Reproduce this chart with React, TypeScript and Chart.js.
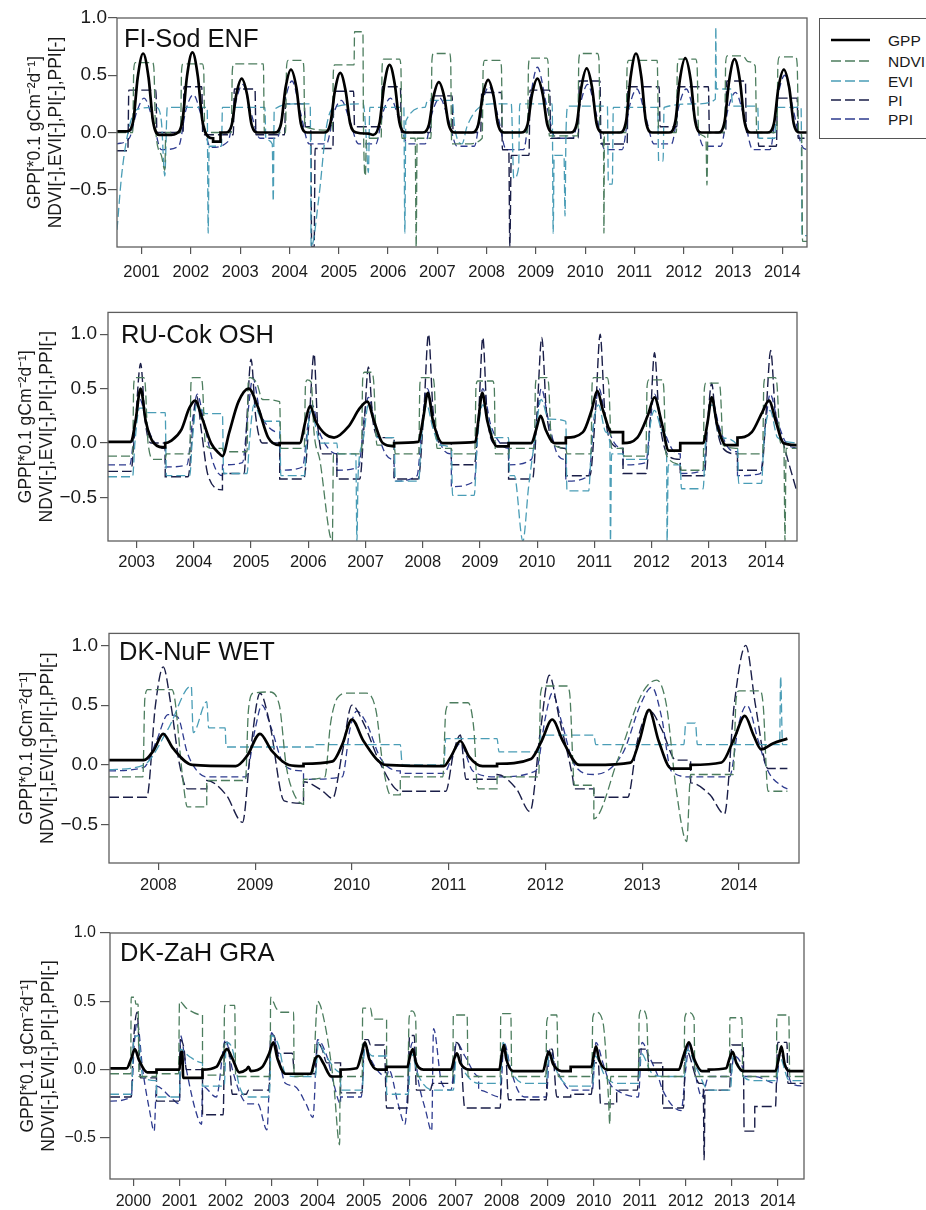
import React, { useEffect, useRef } from 'react';
import { Chart, registerables } from 'chart.js';

Chart.register(...registerables);

type Pt = [number, number];

// ---------------- tick labels ----------------
const FI_YEARS = [2001, 2002, 2003, 2004, 2005, 2006, 2007, 2008, 2009, 2010, 2011, 2012, 2013, 2014];
const RU_YEARS = [2003, 2004, 2005, 2006, 2007, 2008, 2009, 2010, 2011, 2012, 2013, 2014];
const NF_YEARS = [2008, 2009, 2010, 2011, 2012, 2013, 2014];
const ZH_YEARS = [2000, 2001, 2002, 2003, 2004, 2005, 2006, 2007, 2008, 2009, 2010, 2011, 2012, 2013, 2014];
const Y_TICKS = [-0.5, 0, 0.5, 1.0];

const SERIES_NAMES = ['GPP', 'NDVI', 'EVI', 'PI', 'PPI'];
const PANEL_NAMES = ['FI-Sod ENF', 'RU-Cok OSH', 'DK-NuF WET', 'DK-ZaH GRA'];
const Y_TITLE = ['GPP[*0.1 gCm\u207B\u00B2d\u207B\u00B9]', 'NDVI[-],EVI[-],PI[-],PPI[-]'];

// ---------------- FI-Sod ENF ----------------
const FI_GPP: Pt[] = [
  [2000.5, 0.01], [2000.7, 0.01], [2000.83, 0.1], [2000.92, 0.48], [2001.03, 0.69], [2001.14, 0.48], [2001.23, 0.1], [2001.36, -0.02], [2001.6, -0.02],
  [2001.7, -0.01], [2001.83, 0.11], [2001.92, 0.49], [2002.03, 0.7], [2002.14, 0.49], [2002.23, 0.11], [2002.36, -0.04], [2002.45, -0.05], [2002.45, -0.08], [2002.6, -0.08], [2002.6, 0.0],
  [2002.72, 0.0], [2002.83, 0.07], [2002.92, 0.33], [2003.03, 0.47], [2003.14, 0.33], [2003.23, 0.07], [2003.36, 0.0], [2003.6, 0.0],
  [2003.7, 0.0], [2003.83, 0.08], [2003.92, 0.39], [2004.03, 0.55], [2004.14, 0.39], [2004.23, 0.08], [2004.36, 0.0], [2004.6, 0.0],
  [2004.7, 0.0], [2004.83, 0.08], [2004.92, 0.36], [2005.03, 0.52], [2005.14, 0.36], [2005.23, 0.08], [2005.36, 0.0], [2005.6, -0.01],
  [2005.7, -0.02], [2005.83, 0.09], [2005.92, 0.41], [2006.03, 0.59], [2006.14, 0.41], [2006.23, 0.09], [2006.36, 0.0], [2006.6, 0.0],
  [2006.7, 0.0], [2006.83, 0.07], [2006.92, 0.31], [2007.03, 0.44], [2007.14, 0.31], [2007.23, 0.07], [2007.36, 0.0], [2007.6, 0.0],
  [2007.7, 0.0], [2007.83, 0.07], [2007.92, 0.32], [2008.03, 0.46], [2008.14, 0.32], [2008.23, 0.07], [2008.36, 0.0], [2008.6, 0.0],
  [2008.7, 0.0], [2008.83, 0.07], [2008.92, 0.33], [2009.03, 0.47], [2009.14, 0.33], [2009.23, 0.07], [2009.36, 0.0], [2009.6, 0.0],
  [2009.7, 0.0], [2009.83, 0.08], [2009.92, 0.39], [2010.03, 0.56], [2010.14, 0.39], [2010.23, 0.08], [2010.36, 0.0], [2010.6, 0.0],
  [2010.7, 0.0], [2010.83, 0.1], [2010.92, 0.48], [2011.03, 0.69], [2011.14, 0.48], [2011.23, 0.1], [2011.36, 0.0], [2011.6, 0.0],
  [2011.7, 0.0], [2011.83, 0.1], [2011.92, 0.46], [2012.03, 0.65], [2012.14, 0.46], [2012.23, 0.1], [2012.36, 0.0], [2012.6, 0.0],
  [2012.7, 0.0], [2012.83, 0.1], [2012.92, 0.45], [2013.03, 0.64], [2013.14, 0.45], [2013.23, 0.1], [2013.36, 0.0], [2013.6, 0.0],
  [2013.7, 0.0], [2013.83, 0.08], [2013.92, 0.39], [2014.03, 0.55], [2014.14, 0.39], [2014.23, 0.08], [2014.36, 0.0], [2014.5, 0.0],
];
const FI_NDVI: Pt[] = [
  [2000.5, 0.0], [2000.82, 0.0], [2000.84, 0.55], [2000.87, 0.61], [2001.22, 0.61], [2001.25, 0.55], [2001.28, 0.05], [2001.4, -0.2], [2001.47, -0.33], [2001.49, 0.0],
  [2001.79, 0.0], [2001.81, 0.54], [2001.84, 0.6], [2002.23, 0.6], [2002.26, 0.54], [2002.28, 0.0], [2002.82, 0.0], [2002.84, 0.54], [2002.87, 0.6], [2003.47, 0.6], [2003.49, 0.0],
  [2003.92, 0.0], [2003.94, 0.57], [2003.97, 0.63], [2004.26, 0.63], [2004.29, 0.57], [2004.31, 0.05], [2004.87, 0.02], [2004.89, 0.53], [2004.92, 0.59], [2005.31, 0.59],
  [2005.32, 0.88], [2005.49, 0.88], [2005.5, 0.1], [2005.54, -0.38], [2005.56, -0.05], [2005.86, -0.05], [2005.88, 0.58], [2005.91, 0.64], [2006.23, 0.64], [2006.26, 0.58],
  [2006.28, -0.05], [2006.55, -0.05], [2006.57, -1.0], [2006.59, -0.05], [2006.87, -0.05], [2006.89, 0.63], [2006.92, 0.69], [2007.25, 0.69], [2007.27, 0.63], [2007.29, -0.1],
  [2007.6, -0.1], [2007.91, -0.05], [2007.93, 0.57], [2007.96, 0.63], [2008.27, 0.63], [2008.3, 0.57], [2008.32, 0.0], [2008.83, 0.0], [2008.85, 0.59], [2008.88, 0.65],
  [2009.22, 0.65], [2009.25, 0.59], [2009.27, -0.03], [2009.85, -0.03], [2009.87, 0.63], [2009.9, 0.69], [2010.25, 0.69], [2010.28, 0.63], [2010.3, 0.0], [2010.37, 0.0],
  [2010.38, -0.88], [2010.39, 0.0], [2010.83, 0.0], [2010.85, 0.57], [2010.88, 0.63], [2011.46, 0.63], [2011.49, 0.0], [2011.85, 0.0], [2011.87, 0.58], [2011.9, 0.64],
  [2012.24, 0.64], [2012.27, 0.58], [2012.3, 0.0], [2012.45, -0.05], [2012.47, -0.46], [2012.49, 0.0], [2012.83, 0.0], [2012.85, 0.61], [2012.88, 0.67], [2013.2, 0.67],
  [2013.3, 0.62], [2013.45, 0.58], [2013.48, 0.0], [2013.89, 0.0], [2013.91, 0.6], [2013.94, 0.66], [2014.27, 0.66], [2014.3, 0.6], [2014.33, 0.0], [2014.39, -0.02],
  [2014.41, -0.95], [2014.5, -0.95],
];
const FI_EVI: Pt[] = [
  [2000.5, -0.85], [2000.6, -0.35], [2000.75, 0.05], [2000.9, 0.2], [2001.3, 0.22], [2001.4, 0.1], [2001.47, -0.38], [2001.52, 0.22], [2002.33, 0.22], [2002.35, -0.88],
  [2002.37, -0.12], [2002.62, -0.12], [2002.64, 0.22], [2003.5, 0.22], [2003.52, -0.05], [2003.65, -0.1], [2003.67, -0.6], [2003.69, 0.2], [2004.1, 0.25], [2004.42, 0.25],
  [2004.44, -1.0], [2004.6, -0.55], [2004.75, 0.05], [2004.9, 0.22], [2005.5, 0.25], [2005.55, 0.0], [2005.6, -0.35], [2005.63, 0.22], [2006.32, 0.22], [2006.34, -0.88],
  [2006.36, 0.1], [2006.75, 0.22], [2006.8, 0.28], [2007.3, 0.28], [2007.35, 0.05], [2007.5, -0.1], [2007.6, 0.05], [2007.8, 0.2], [2008.1, 0.25], [2008.5, 0.25],
  [2008.55, -0.4], [2008.65, -0.3], [2008.67, 0.25], [2009.33, 0.25], [2009.35, -0.88], [2009.37, -0.2], [2009.57, -0.2], [2009.59, -0.73], [2009.61, 0.0], [2009.65, 0.23],
  [2010.45, 0.23], [2010.47, -0.45], [2010.55, -0.45], [2010.57, 0.22], [2011.47, 0.22], [2011.49, -0.25], [2011.58, -0.25], [2011.6, 0.22], [2012.3, 0.25], [2012.64, 0.29],
  [2012.65, 0.92], [2012.66, 0.38], [2012.95, 0.38], [2013.0, 0.23], [2013.5, 0.23], [2013.52, -0.05], [2013.85, -0.05], [2013.87, 0.22], [2014.38, 0.22], [2014.4, -0.9],
  [2014.5, -0.9],
];
const FI_PI: Pt[] = [
  [2000.5, -0.16], [2000.72, -0.16], [2000.74, 0.37], [2001.29, 0.37], [2001.31, 0.0], [2001.84, 0.0], [2001.86, 0.4], [2002.22, 0.4], [2002.24, -0.02], [2002.86, -0.02],
  [2002.88, 0.38], [2003.3, 0.38], [2003.32, -0.02], [2003.9, -0.02], [2003.92, 0.25], [2004.3, 0.25], [2004.32, 0.05], [2004.43, 0.05], [2004.45, -1.0], [2004.5, -1.0],
  [2004.52, -0.14], [2004.88, -0.14], [2004.9, 0.36], [2005.3, 0.36], [2005.32, 0.05], [2005.86, 0.05], [2005.88, 0.4], [2006.25, 0.4], [2006.27, 0.0], [2006.86, 0.0],
  [2006.88, 0.32], [2007.3, 0.32], [2007.32, 0.0], [2007.88, 0.0], [2007.9, 0.35], [2008.3, 0.35], [2008.32, -0.15], [2008.45, -0.15], [2008.47, -1.0], [2008.5, -0.2],
  [2008.86, -0.2], [2008.88, 0.37], [2009.28, 0.37], [2009.3, -0.05], [2009.86, -0.05], [2009.88, 0.45], [2010.3, 0.45], [2010.32, -0.1], [2010.85, -0.1], [2010.87, 0.4],
  [2011.5, 0.4], [2011.52, 0.05], [2011.86, 0.05], [2011.88, 0.4], [2012.5, 0.4], [2012.52, 0.0], [2012.85, 0.0], [2012.87, 0.45], [2013.25, 0.45], [2013.27, 0.0],
  [2013.5, 0.0], [2013.52, -0.12], [2013.88, -0.12], [2013.9, 0.3], [2014.3, 0.3], [2014.32, -0.05], [2014.5, -0.05],
];
const FI_PPI: Pt[] = [
  [2000.5, -0.1], [2000.75, -0.05], [2000.9, 0.18], [2001.05, 0.3], [2001.22, 0.12], [2001.4, -0.15],
  [2001.75, -0.12], [2001.9, 0.2], [2002.05, 0.33], [2002.22, 0.13], [2002.4, -0.13],
  [2002.75, -0.08], [2002.9, 0.25], [2003.05, 0.42], [2003.22, 0.17], [2003.4, -0.05],
  [2003.75, -0.05], [2003.9, 0.27], [2004.05, 0.45], [2004.22, 0.18], [2004.4, -0.1],
  [2004.75, -0.1], [2004.9, 0.17], [2005.05, 0.28], [2005.22, 0.11], [2005.4, -0.1],
  [2005.75, -0.1], [2005.9, 0.18], [2006.05, 0.3], [2006.22, 0.12], [2006.4, -0.1],
  [2006.75, -0.1], [2006.9, 0.18], [2007.05, 0.3], [2007.22, 0.12], [2007.4, -0.12],
  [2007.75, -0.12], [2007.9, 0.24], [2008.05, 0.4], [2008.22, 0.16], [2008.4, -0.15],
  [2008.75, -0.15], [2008.9, 0.34], [2009.03, 0.57], [2009.22, 0.23], [2009.4, -0.05],
  [2009.75, -0.05], [2009.9, 0.25], [2010.05, 0.42], [2010.22, 0.17], [2010.4, -0.15],
  [2010.75, -0.15], [2010.9, 0.23], [2011.05, 0.38], [2011.22, 0.15], [2011.4, -0.1],
  [2011.75, -0.1], [2011.9, 0.23], [2012.05, 0.38], [2012.22, 0.15], [2012.4, -0.12],
  [2012.75, -0.12], [2012.9, 0.21], [2013.05, 0.35], [2013.22, 0.14], [2013.4, -0.15],
  [2013.75, -0.15], [2013.9, 0.3], [2014.05, 0.5], [2014.22, 0.2], [2014.4, -0.12], [2014.5, -0.15],
];

// ---------------- RU-Cok OSH ----------------
const RU_GPP: Pt[] = [
  [2002.5, 0.01], [2002.9, 0.01], [2002.98, 0.2], [2003.07, 0.5], [2003.16, 0.2], [2003.3, 0.0], [2003.5, -0.04], [2003.5, 0.0], [2003.6, 0.02], [2003.78, 0.12],
  [2003.92, 0.32], [2004.02, 0.39], [2004.15, 0.22], [2004.3, 0.0], [2004.45, -0.1], [2004.5, -0.12], [2004.62, 0.1], [2004.78, 0.38], [2004.96, 0.5], [2005.12, 0.33],
  [2005.3, 0.05], [2005.5, -0.02], [2005.5, 0.0], [2005.85, 0.0], [2005.95, 0.2], [2006.03, 0.34], [2006.13, 0.2], [2006.3, 0.08], [2006.45, 0.05], [2006.7, 0.15],
  [2006.9, 0.32], [2007.03, 0.38], [2007.15, 0.2], [2007.3, 0.0], [2007.5, -0.03], [2007.5, 0.0], [2007.92, 0.01], [2008.0, 0.2], [2008.09, 0.46], [2008.18, 0.2],
  [2008.35, 0.0], [2008.5, 0.0], [2008.92, 0.01], [2008.97, 0.2], [2009.04, 0.46], [2009.13, 0.2], [2009.3, -0.03], [2009.5, -0.03], [2009.5, 0.0], [2009.9, 0.0],
  [2009.98, 0.12], [2010.06, 0.25], [2010.15, 0.12], [2010.3, 0.0], [2010.5, 0.0], [2010.5, 0.05], [2010.8, 0.1], [2010.95, 0.3], [2011.05, 0.48], [2011.15, 0.3],
  [2011.3, 0.1], [2011.5, 0.1], [2011.5, 0.0], [2011.75, 0.05], [2011.93, 0.25], [2012.05, 0.42], [2012.17, 0.2], [2012.3, -0.07], [2012.5, -0.07], [2012.5, 0.0],
  [2012.9, 0.0], [2012.98, 0.2], [2013.05, 0.42], [2013.14, 0.18], [2013.3, -0.02], [2013.5, -0.02], [2013.5, 0.05], [2013.75, 0.1], [2013.93, 0.28], [2014.05, 0.39],
  [2014.17, 0.2], [2014.3, 0.0], [2014.54, -0.02],
];
const RU_NDVI: Pt[] = [
  [2002.5, -0.12], [2002.93, -0.12], [2002.95, 0.54], [2002.98, 0.6], [2003.12, 0.6], [2003.15, 0.54], [2003.2, 0.0], [2003.3, -0.15], [2003.5, -0.15], [2003.52, -0.1],
  [2003.93, -0.1], [2003.95, 0.55], [2003.98, 0.6], [2004.12, 0.6], [2004.15, 0.54], [2004.2, 0.0], [2004.3, -0.05], [2004.5, -0.05], [2004.52, -0.08], [2004.93, -0.08],
  [2004.95, 0.55], [2004.98, 0.6], [2005.1, 0.55], [2005.2, 0.4], [2005.5, 0.38], [2005.52, -0.05], [2005.93, -0.05], [2005.95, 0.52], [2005.98, 0.58], [2006.05, 0.56],
  [2006.1, 0.1], [2006.2, -0.15], [2006.42, -0.9], [2006.44, -0.1], [2006.93, -0.1], [2006.95, 0.58], [2006.98, 0.65], [2007.1, 0.65], [2007.14, 0.58], [2007.2, -0.02],
  [2007.5, -0.02], [2007.52, -0.1], [2007.93, -0.1], [2007.95, 0.54], [2007.98, 0.6], [2008.17, 0.6], [2008.2, 0.54], [2008.25, -0.05], [2008.5, -0.05], [2008.52, -0.1],
  [2008.91, -0.1], [2008.93, 0.51], [2008.96, 0.57], [2009.22, 0.57], [2009.25, 0.51], [2009.27, -0.1], [2009.5, -0.1], [2009.52, -0.05], [2009.95, -0.05], [2009.97, 0.54],
  [2010.0, 0.6], [2010.17, 0.6], [2010.2, 0.54], [2010.25, 0.0], [2010.5, -0.05], [2010.52, -0.1], [2010.94, -0.1], [2010.96, 0.54], [2010.99, 0.6], [2011.22, 0.6],
  [2011.25, 0.54], [2011.3, -0.05], [2011.5, -0.05], [2011.52, -0.12], [2011.9, -0.12], [2011.92, 0.52], [2011.95, 0.58], [2012.18, 0.58], [2012.21, 0.52], [2012.25, -0.1],
  [2012.5, -0.2], [2012.52, -0.25], [2012.9, -0.25], [2012.92, 0.49], [2012.95, 0.55], [2013.17, 0.55], [2013.2, 0.49], [2013.25, -0.02], [2013.5, -0.05], [2013.52, -0.1],
  [2013.94, -0.1], [2013.96, 0.54], [2013.99, 0.6], [2014.16, 0.6], [2014.19, 0.54], [2014.25, 0.0], [2014.31, 0.0], [2014.33, -0.9], [2014.35, -0.05], [2014.54, -0.05],
];
const RU_EVI: Pt[] = [
  [2002.5, -0.31], [2002.93, -0.31], [2002.97, 0.0], [2003.05, 0.32], [2003.15, 0.32], [2003.2, 0.28], [2003.5, 0.28], [2003.52, -0.3], [2003.93, -0.3], [2003.97, 0.0],
  [2004.05, 0.35], [2004.15, 0.3], [2004.2, 0.27], [2004.5, 0.27], [2004.52, -0.28], [2004.93, -0.28], [2004.97, 0.0], [2005.05, 0.35], [2005.15, 0.25], [2005.2, 0.2],
  [2005.5, 0.2], [2005.52, -0.3], [2005.93, -0.3], [2005.97, 0.0], [2006.05, 0.3], [2006.15, 0.1], [2006.2, 0.0], [2006.5, 0.0], [2006.52, -0.1], [2006.83, -0.1],
  [2006.85, -0.9], [2006.87, -0.3], [2006.95, 0.0], [2007.05, 0.35], [2007.15, 0.2], [2007.2, 0.05], [2007.5, 0.05], [2007.52, -0.35], [2007.93, -0.35], [2007.97, 0.0],
  [2008.07, 0.35], [2008.17, 0.15], [2008.3, -0.02], [2008.5, -0.05], [2008.52, -0.48], [2008.9, -0.48], [2008.95, 0.0], [2009.05, 0.35], [2009.15, 0.2], [2009.25, 0.05],
  [2009.5, 0.05], [2009.52, -0.3], [2009.6, -0.3], [2009.75, -0.9], [2009.85, -0.4], [2009.95, 0.0], [2010.07, 0.4], [2010.2, 0.22], [2010.5, 0.2], [2010.52, -0.44],
  [2010.9, -0.44], [2010.95, 0.0], [2011.07, 0.35], [2011.2, 0.1], [2011.27, 0.0], [2011.28, -0.9], [2011.3, -0.1], [2011.5, -0.1], [2011.52, -0.15], [2011.92, -0.15],
  [2011.96, 0.1], [2012.05, 0.3], [2012.2, 0.1], [2012.26, 0.0], [2012.27, -0.9], [2012.29, -0.2], [2012.5, -0.2], [2012.52, -0.42], [2012.9, -0.42], [2012.94, 0.0],
  [2013.05, 0.35], [2013.2, 0.05], [2013.5, -0.02], [2013.52, -0.37], [2013.92, -0.37], [2013.96, 0.0], [2014.07, 0.3], [2014.2, 0.05], [2014.54, 0.0],
];
const RU_PI: Pt[] = [
  [2002.5, -0.26], [2002.9, -0.26], [2002.98, 0.2], [2003.07, 0.73], [2003.15, 0.2], [2003.25, 0.0], [2003.5, 0.0], [2003.5, -0.31], [2003.9, -0.31], [2003.98, 0.12],
  [2004.05, 0.43], [2004.13, 0.12], [2004.25, -0.3], [2004.5, -0.43], [2004.5, -0.28], [2004.88, -0.28], [2004.93, 0.25], [2005.0, 0.77], [2005.08, 0.25], [2005.2, 0.0],
  [2005.5, 0.0], [2005.5, -0.33], [2005.92, -0.33], [2006.02, 0.25], [2006.1, 0.82], [2006.16, 0.2], [2006.25, -0.1], [2006.5, -0.1], [2006.5, -0.33], [2006.9, -0.33],
  [2006.98, 0.2], [2007.05, 0.7], [2007.13, 0.2], [2007.25, 0.05], [2007.5, 0.05], [2007.5, -0.33], [2007.92, -0.33], [2008.02, 0.3], [2008.1, 1.0], [2008.18, 0.3],
  [2008.3, 0.0], [2008.5, 0.0], [2008.5, -0.2], [2008.9, -0.2], [2008.98, 0.3], [2009.05, 0.97], [2009.12, 0.3], [2009.25, 0.0], [2009.5, 0.0], [2009.5, -0.33],
  [2009.92, -0.33], [2010.0, 0.3], [2010.08, 0.97], [2010.16, 0.3], [2010.3, 0.0], [2010.5, -0.05], [2010.5, -0.3], [2010.92, -0.3], [2011.02, 0.3], [2011.1, 1.0],
  [2011.18, 0.3], [2011.3, 0.0], [2011.5, -0.05], [2011.5, -0.28], [2011.9, -0.28], [2011.98, 0.25], [2012.05, 0.83], [2012.13, 0.25], [2012.3, -0.12], [2012.5, -0.15],
  [2012.5, -0.3], [2012.92, -0.3], [2012.98, 0.2], [2013.05, 0.55], [2013.12, 0.2], [2013.25, -0.05], [2013.5, -0.1], [2013.5, -0.25], [2013.92, -0.25], [2014.0, 0.28],
  [2014.08, 0.85], [2014.16, 0.3], [2014.3, 0.0], [2014.54, -0.45],
];
const RU_PPI: Pt[] = [
  [2002.5, -0.2], [2002.88, -0.2], [2002.98, 0.2], [2003.06, 0.4], [2003.18, 0.16], [2003.35, -0.02], [2003.5, -0.05], [2003.5, -0.22], [2003.88, -0.2], [2003.98, 0.22],
  [2004.06, 0.45], [2004.18, 0.18], [2004.35, -0.2], [2004.5, -0.3], [2004.5, -0.2], [2004.85, -0.18], [2004.95, 0.3], [2005.03, 0.6], [2005.15, 0.3], [2005.3, 0.15],
  [2005.5, 0.1], [2005.5, -0.25], [2005.9, -0.22], [2006.0, 0.2], [2006.07, 0.35], [2006.18, 0.12], [2006.35, -0.05], [2006.5, -0.1], [2006.5, -0.25], [2006.88, -0.22],
  [2006.98, 0.25], [2007.05, 0.42], [2007.18, 0.15], [2007.35, -0.1], [2007.5, -0.15], [2007.5, -0.35], [2007.9, -0.3], [2008.0, 0.25], [2008.08, 0.5], [2008.2, 0.2],
  [2008.35, -0.05], [2008.5, -0.1], [2008.5, -0.4], [2008.9, -0.35], [2008.98, 0.25], [2009.05, 0.5], [2009.18, 0.18], [2009.35, 0.0], [2009.5, -0.05], [2009.5, -0.2],
  [2009.9, -0.15], [2010.0, 0.25], [2010.07, 0.5], [2010.2, 0.2], [2010.35, -0.1], [2010.5, -0.15], [2010.5, -0.35], [2010.9, -0.3], [2011.0, 0.25], [2011.08, 0.5],
  [2011.2, 0.2], [2011.35, 0.0], [2011.5, -0.05], [2011.5, -0.2], [2011.9, -0.18], [2011.98, 0.22], [2012.05, 0.45], [2012.18, 0.18], [2012.35, -0.05], [2012.5, -0.1],
  [2012.5, -0.28], [2012.9, -0.25], [2012.98, 0.2], [2013.05, 0.4], [2013.18, 0.15], [2013.35, -0.05], [2013.5, -0.08], [2013.5, -0.3], [2013.9, -0.28], [2014.0, 0.22],
  [2014.07, 0.45], [2014.2, 0.2], [2014.35, 0.0], [2014.54, -0.05],
];

// ---------------- DK-NuF WET ----------------
const NF_GPP: Pt[] = [
  [2007.49, 0.04], [2007.85, 0.04], [2007.95, 0.12], [2008.05, 0.26], [2008.15, 0.14], [2008.35, 0.0], [2008.8, -0.01], [2008.92, 0.08], [2009.05, 0.26], [2009.17, 0.12],
  [2009.35, 0.0], [2009.5, -0.01], [2009.5, 0.01], [2009.8, 0.03], [2009.9, 0.17], [2010.0, 0.38], [2010.12, 0.2], [2010.35, 0.0], [2010.95, -0.01], [2011.03, 0.08],
  [2011.12, 0.2], [2011.21, 0.07], [2011.35, -0.01], [2011.5, -0.01], [2011.5, 0.01], [2011.85, 0.05], [2011.96, 0.2], [2012.07, 0.38], [2012.18, 0.2], [2012.35, 0.0],
  [2012.5, 0.0], [2012.88, 0.02], [2012.97, 0.2], [2013.07, 0.46], [2013.17, 0.2], [2013.3, -0.03], [2013.5, -0.03], [2013.5, 0.0], [2013.82, 0.02], [2013.95, 0.22],
  [2014.06, 0.41], [2014.15, 0.25], [2014.23, 0.13], [2014.35, 0.18], [2014.5, 0.22],
];
const NF_NDVI: Pt[] = [
  [2007.49, -0.1], [2007.84, -0.1], [2007.86, 0.55], [2007.89, 0.63], [2008.14, 0.63], [2008.17, 0.55], [2008.25, -0.1], [2008.3, -0.35], [2008.5, -0.35], [2008.5, -0.13],
  [2008.9, -0.13], [2008.93, 0.45], [2008.98, 0.6], [2009.15, 0.61], [2009.25, 0.5], [2009.32, 0.0], [2009.38, -0.2], [2009.5, -0.33], [2009.5, -0.12], [2009.72, -0.1],
  [2009.78, 0.35], [2009.85, 0.56], [2009.95, 0.6], [2010.15, 0.6], [2010.25, 0.45], [2010.32, 0.0], [2010.4, -0.25], [2010.5, -0.25], [2010.5, -0.1], [2010.94, -0.1],
  [2010.97, 0.45], [2011.02, 0.52], [2011.2, 0.52], [2011.26, 0.3], [2011.3, -0.2], [2011.5, -0.2], [2011.5, -0.1], [2011.93, -0.1], [2011.95, 0.6], [2011.98, 0.66],
  [2012.22, 0.66], [2012.25, 0.6], [2012.3, -0.17], [2012.5, -0.17], [2012.5, -0.45], [2012.75, 0.05], [2013.0, 0.6], [2013.15, 0.71], [2013.25, 0.5], [2013.35, -0.2],
  [2013.46, -0.64], [2013.5, -0.08], [2013.94, -0.08], [2013.97, 0.55], [2014.0, 0.62], [2014.22, 0.62], [2014.25, 0.5], [2014.3, -0.22], [2014.5, -0.22],
];
const NF_EVI: Pt[] = [
  [2007.49, -0.04], [2007.85, 0.0], [2008.1, 0.3], [2008.34, 0.66], [2008.36, 0.27], [2008.5, 0.53], [2008.52, 0.31], [2008.69, 0.31], [2008.7, 0.15], [2009.6, 0.15],
  [2009.6, 0.17], [2010.5, 0.17], [2010.52, 0.0], [2010.95, 0.0], [2010.97, 0.22], [2011.5, 0.22], [2011.52, 0.11], [2011.93, 0.11], [2011.95, 0.25], [2012.5, 0.25],
  [2012.52, 0.17], [2013.43, 0.17], [2013.45, 0.35], [2013.55, 0.35], [2013.57, 0.17], [2014.42, 0.17], [2014.43, 0.74], [2014.45, 0.17], [2014.5, 0.17],
];
const NF_PI: Pt[] = [
  [2007.49, -0.27], [2007.88, -0.27], [2007.97, 0.5], [2008.05, 0.82], [2008.13, 0.5], [2008.22, 0.0], [2008.3, -0.2], [2008.5, -0.2], [2008.5, -0.13], [2008.7, -0.25],
  [2008.87, -0.48], [2008.95, 0.1], [2009.05, 0.6], [2009.15, 0.35], [2009.3, -0.3], [2009.5, -0.32], [2009.5, -0.14], [2009.7, -0.22], [2009.8, -0.28], [2009.9, 0.1],
  [2010.0, 0.5], [2010.12, 0.35], [2010.3, 0.0], [2010.5, -0.22], [2010.97, -0.22], [2011.05, 0.1], [2011.12, 0.25], [2011.18, -0.12], [2011.5, -0.12], [2011.5, -0.08],
  [2011.7, -0.2], [2011.84, -0.39], [2011.95, 0.3], [2012.04, 0.75], [2012.14, 0.4], [2012.28, -0.1], [2012.3, -0.2], [2012.5, -0.2], [2012.5, -0.27], [2012.85, -0.27],
  [2012.95, 0.2], [2013.08, 0.45], [2013.2, 0.3], [2013.35, 0.04], [2013.5, 0.04], [2013.5, -0.15], [2013.7, -0.25], [2013.85, -0.41], [2013.95, 0.5], [2014.07, 1.0],
  [2014.17, 0.5], [2014.3, -0.03], [2014.5, -0.03],
];
const NF_PPI: Pt[] = [
  [2007.49, -0.05], [2007.85, -0.02], [2007.98, 0.2], [2008.1, 0.42], [2008.2, 0.4], [2008.3, 0.1], [2008.4, -0.05], [2008.5, -0.1], [2008.9, -0.1], [2009.0, 0.3],
  [2009.07, 0.5], [2009.17, 0.3], [2009.3, 0.0], [2009.5, -0.05], [2009.5, -0.12], [2009.9, -0.1], [2009.98, 0.3], [2010.05, 0.45], [2010.15, 0.35], [2010.3, 0.05],
  [2010.5, -0.05], [2010.5, -0.07], [2010.95, -0.07], [2011.05, 0.1], [2011.12, 0.18], [2011.25, -0.05], [2011.5, -0.1], [2011.9, -0.05], [2012.0, 0.4], [2012.07, 0.6],
  [2012.17, 0.35], [2012.3, 0.0], [2012.5, -0.08], [2012.8, 0.1], [2012.98, 0.5], [2013.1, 0.65], [2013.2, 0.4], [2013.3, -0.05], [2013.5, -0.1], [2013.9, -0.1],
  [2014.0, 0.35], [2014.08, 0.5], [2014.2, 0.2], [2014.3, -0.05], [2014.45, -0.18], [2014.5, -0.2],
];

// ---------------- DK-ZaH GRA ----------------
const ZH_GPP: Pt[] = [
  [1999.49, 0.01], [1999.85, 0.01], [1999.95, 0.08], [2000.03, 0.15], [2000.12, 0.07], [2000.3, -0.02], [2000.5, -0.02], [2000.5, 0.0], [2001.0, 0.0], [2001.03, 0.13],
  [2001.06, 0.13], [2001.08, -0.06], [2001.5, -0.06], [2001.5, 0.0], [2001.8, 0.02], [2001.93, 0.1], [2002.03, 0.15], [2002.15, 0.08], [2002.3, -0.02], [2002.45, 0.0],
  [2002.5, 0.02], [2002.55, -0.01], [2002.8, 0.02], [2002.95, 0.12], [2003.04, 0.2], [2003.13, 0.08], [2003.3, -0.03], [2003.85, -0.03], [2003.95, 0.08], [2004.02, 0.1],
  [2004.12, 0.05], [2004.3, -0.05], [2004.5, -0.05], [2004.5, 0.0], [2004.85, 0.01], [2004.96, 0.12], [2005.03, 0.2], [2005.12, 0.08], [2005.3, 0.0], [2005.5, 0.0],
  [2005.5, 0.02], [2005.95, 0.02], [2006.01, 0.1], [2006.07, 0.15], [2006.14, 0.05], [2006.3, 0.0], [2006.9, 0.0], [2006.97, 0.08], [2007.03, 0.12], [2007.1, 0.05],
  [2007.3, 0.0], [2007.95, 0.0], [2008.0, 0.1], [2008.05, 0.18], [2008.1, 0.08], [2008.25, -0.01], [2008.9, -0.01], [2008.97, 0.08], [2009.03, 0.13], [2009.12, 0.04],
  [2009.3, -0.01], [2009.5, -0.01], [2009.5, 0.02], [2009.95, 0.02], [2010.0, 0.1], [2010.05, 0.17], [2010.12, 0.07], [2010.3, 0.0], [2010.5, 0.0], [2011.85, 0.0],
  [2011.95, 0.1], [2012.07, 0.2], [2012.18, 0.08], [2012.35, -0.01], [2012.5, -0.01], [2012.5, 0.0], [2012.88, 0.01], [2012.95, 0.08], [2013.02, 0.13], [2013.1, 0.05],
  [2013.25, -0.01], [2013.95, -0.01], [2014.03, 0.1], [2014.08, 0.17], [2014.15, 0.04], [2014.25, -0.01], [2014.57, -0.01],
];
const ZH_NDVI: Pt[] = [
  [1999.49, -0.03], [1999.94, -0.03], [1999.95, 0.53], [2000.03, 0.53], [2000.05, 0.48], [2000.1, 0.48], [2000.12, -0.05], [2000.5, -0.05], [2000.5, -0.03], [2000.98, -0.03],
  [2001.0, 0.5], [2001.15, 0.45], [2001.5, 0.4], [2001.5, -0.04], [2001.96, -0.04], [2001.98, 0.47], [2002.2, 0.47], [2002.22, -0.05], [2002.97, -0.05], [2002.98, 0.53],
  [2003.1, 0.45], [2003.2, 0.42], [2003.48, 0.42], [2003.49, -0.05], [2003.9, -0.02], [2004.0, 0.5], [2004.15, 0.35], [2004.35, -0.1], [2004.48, -0.55], [2004.49, -0.05],
  [2004.97, -0.05], [2004.98, 0.45], [2005.15, 0.45], [2005.2, 0.37], [2005.5, 0.37], [2005.5, -0.05], [2005.96, -0.05], [2005.99, 0.38], [2006.05, 0.43], [2006.13, 0.38],
  [2006.16, -0.05], [2006.94, -0.05], [2006.95, 0.4], [2007.25, 0.4], [2007.27, -0.05], [2007.97, -0.05], [2007.98, 0.41], [2008.2, 0.41], [2008.22, -0.05], [2008.96, -0.05],
  [2008.98, 0.35], [2009.05, 0.4], [2009.2, 0.4], [2009.23, -0.05], [2009.96, -0.05], [2009.98, 0.38], [2010.05, 0.42], [2010.2, 0.35], [2010.32, -0.2], [2010.35, -0.4],
  [2010.37, -0.05], [2010.97, -0.05], [2010.99, 0.4], [2011.05, 0.44], [2011.15, 0.38], [2011.2, -0.05], [2011.96, -0.05], [2011.98, 0.38], [2012.05, 0.42], [2012.18, 0.38],
  [2012.2, -0.05], [2012.95, -0.05], [2012.96, 0.38], [2013.22, 0.38], [2013.24, -0.05], [2013.97, -0.05], [2013.98, 0.4], [2014.24, 0.4], [2014.26, -0.05], [2014.57, -0.05],
];
const ZH_EVI: Pt[] = [
  [1999.49, -0.18], [1999.96, -0.18], [2000.0, 0.2], [2000.1, 0.25], [2000.2, -0.05], [2000.5, -0.08], [2000.5, -0.2], [2001.0, -0.2], [2001.02, 0.15], [2001.2, 0.1],
  [2001.5, 0.05], [2001.5, -0.12], [2001.97, -0.12], [2002.02, 0.2], [2002.15, 0.15], [2002.3, -0.12], [2002.5, -0.2], [2002.95, -0.2], [2003.0, 0.25], [2003.15, 0.18],
  [2003.3, -0.03], [2003.5, -0.05], [2003.95, -0.05], [2004.02, 0.2], [2004.15, 0.12], [2004.5, -0.02], [2004.5, -0.15], [2004.97, -0.15], [2005.02, 0.15], [2005.2, 0.1],
  [2005.5, 0.1], [2005.5, -0.18], [2005.97, -0.18], [2006.03, 0.12], [2006.2, -0.05], [2006.5, -0.15], [2006.95, -0.15], [2007.02, 0.12], [2007.2, -0.02], [2007.5, -0.1],
  [2007.97, -0.1], [2008.03, 0.2], [2008.2, 0.0], [2008.5, -0.1], [2008.97, -0.1], [2009.03, 0.12], [2009.25, -0.05], [2009.5, -0.12], [2009.97, -0.12], [2010.03, 0.1],
  [2010.25, -0.05], [2010.5, -0.1], [2010.97, -0.1], [2011.03, 0.12], [2011.25, -0.02], [2011.5, -0.05], [2011.97, -0.05], [2012.03, 0.15], [2012.25, 0.0], [2012.5, -0.15],
  [2012.97, -0.15], [2013.03, 0.1], [2013.25, -0.05], [2013.5, -0.08], [2013.97, -0.08], [2014.03, 0.1], [2014.25, -0.08], [2014.57, -0.08],
];
const ZH_PI: Pt[] = [
  [1999.49, -0.2], [1999.95, -0.2], [2000.0, 0.2], [2000.08, 0.42], [2000.13, 0.1], [2000.15, -0.06], [2000.5, -0.06], [2000.5, -0.23], [2001.0, -0.23], [2001.02, 0.22],
  [2001.1, 0.15], [2001.15, 0.0], [2001.5, 0.0], [2001.5, -0.33], [2001.95, -0.33], [2001.98, 0.2], [2002.05, 0.2], [2002.15, -0.18], [2002.45, -0.18], [2002.5, -0.15],
  [2002.95, -0.15], [2002.98, 0.25], [2003.05, 0.25], [2003.15, 0.12], [2003.45, 0.12], [2003.5, -0.03], [2003.95, -0.03], [2004.0, 0.2], [2004.1, 0.15], [2004.2, 0.05],
  [2004.5, 0.05], [2004.5, -0.17], [2004.97, -0.17], [2005.0, 0.22], [2005.1, 0.22], [2005.15, 0.18], [2005.45, 0.18], [2005.5, -0.28], [2005.95, -0.28], [2006.0, 0.25],
  [2006.1, 0.25], [2006.15, -0.15], [2006.45, -0.15], [2006.5, -0.1], [2006.95, -0.1], [2007.0, 0.2], [2007.1, 0.15], [2007.2, -0.28], [2007.5, -0.28], [2007.97, -0.28],
  [2008.0, 0.15], [2008.08, 0.15], [2008.15, -0.22], [2008.5, -0.22], [2008.97, -0.22], [2009.0, 0.15], [2009.1, 0.15], [2009.2, -0.2], [2009.5, -0.2], [2009.5, -0.18],
  [2009.95, -0.18], [2010.0, 0.05], [2010.1, 0.05], [2010.15, -0.25], [2010.5, -0.25], [2010.5, -0.15], [2010.95, -0.15], [2011.0, 0.15], [2011.15, 0.15], [2011.2, 0.05],
  [2011.5, 0.05], [2011.5, -0.28], [2011.95, -0.28], [2012.0, 0.15], [2012.3, -0.1], [2012.38, -0.1], [2012.4, -0.66], [2012.42, -0.15], [2012.95, -0.15], [2013.0, 0.18],
  [2013.25, 0.18], [2013.27, -0.45], [2013.5, -0.45], [2013.5, -0.27], [2013.95, -0.27], [2014.0, 0.2], [2014.2, 0.2], [2014.22, -0.1], [2014.57, -0.1],
];
const ZH_PPI: Pt[] = [
  [1999.49, -0.23], [1999.95, -0.2], [2000.02, 0.2], [2000.08, 0.35], [2000.2, 0.0], [2000.35, -0.3], [2000.45, -0.45], [2000.5, -0.12], [2000.8, -0.2], [2001.0, -0.25],
  [2001.02, 0.25], [2001.15, 0.0], [2001.35, -0.3], [2001.48, -0.4], [2001.5, -0.12], [2001.8, -0.2], [2002.0, 0.22], [2002.15, 0.0], [2002.35, -0.2], [2002.5, -0.25],
  [2002.7, -0.25], [2002.9, -0.44], [2003.0, 0.27], [2003.15, 0.1], [2003.3, -0.1], [2003.5, -0.12], [2003.75, -0.25], [2003.9, -0.35], [2004.0, 0.22], [2004.2, 0.1],
  [2004.35, -0.1], [2004.5, -0.25], [2004.5, -0.2], [2004.95, -0.2], [2005.03, 0.2], [2005.15, 0.08], [2005.5, -0.05], [2005.55, 0.0], [2005.75, -0.25], [2005.9, -0.4],
  [2006.0, 0.1], [2006.07, 0.2], [2006.2, -0.1], [2006.35, -0.3], [2006.48, -0.45], [2006.52, 0.3], [2006.7, -0.1], [2006.9, -0.15], [2007.02, 0.2], [2007.2, 0.1],
  [2007.5, -0.05], [2007.5, -0.15], [2007.97, -0.2], [2008.05, 0.2], [2008.2, 0.0], [2008.35, -0.15], [2008.5, -0.2], [2008.97, -0.2], [2009.05, 0.15], [2009.2, 0.0],
  [2009.35, -0.1], [2009.5, -0.15], [2009.97, -0.15], [2010.05, 0.2], [2010.2, 0.05], [2010.35, -0.1], [2010.5, -0.15], [2010.97, -0.2], [2011.05, 0.2], [2011.2, 0.1],
  [2011.4, -0.05], [2011.5, -0.15], [2011.9, -0.3], [2012.0, 0.0], [2012.08, 0.2], [2012.25, -0.1], [2012.35, -0.2], [2012.5, -0.05], [2012.97, -0.05], [2013.05, 0.1],
  [2013.2, 0.05], [2013.3, -0.05], [2013.5, -0.05], [2013.97, -0.1], [2014.05, 0.12], [2014.2, 0.0], [2014.3, -0.1], [2014.57, -0.12],
];

// ---------------- styles & layout ----------------
const FONT = "'Liberation Sans', Arial, Helvetica, sans-serif";
const SERIES_STYLE = [
  { color: '#000000', width: 2.7, dash: [] as number[] },
  { color: '#4c7d5e', width: 1.3, dash: [9, 4] },
  { color: '#4a9db6', width: 1.3, dash: [9, 4] },
  { color: '#1a1e48', width: 1.4, dash: [10, 4] },
  { color: '#2e3b8f', width: 1.3, dash: [7, 4] },
];

interface PanelDef {
  name: string;
  box: { L: number; T: number; R: number; B: number };
  xMin: number; xMax: number; yMin: number; yMax: number;
  years: number[];
  series: Pt[][];
  label: { dx: number; dy: number };
  yFont: number; xFont: number; xPad: number; yTickLen: number; yPad: number;
}

const PANELS: PanelDef[] = [
  { name: PANEL_NAMES[0], box: { L: 117, T: 18, R: 807, B: 247 }, xMin: 2000.5, xMax: 2014.5, yMin: -1.0, yMax: 1.0,
    years: FI_YEARS, series: [FI_GPP, FI_NDVI, FI_EVI, FI_PI, FI_PPI], label: { dx: 7, dy: 22 }, yFont: 19, xFont: 16.5, xPad: 9, yTickLen: 9, yPad: 1 },
  { name: PANEL_NAMES[1], box: { L: 108, T: 312, R: 797, B: 541 }, xMin: 2002.5, xMax: 2014.54, yMin: -0.9, yMax: 1.2,
    years: RU_YEARS, series: [RU_GPP, RU_NDVI, RU_EVI, RU_PI, RU_PPI], label: { dx: 13, dy: 24 }, yFont: 19, xFont: 16.5, xPad: 5, yTickLen: 8, yPad: 3 },
  { name: PANEL_NAMES[2], box: { L: 109, T: 633, R: 799, B: 863 }, xMin: 2007.49, xMax: 2014.62, yMin: -0.82, yMax: 1.1,
    years: NF_YEARS, series: [NF_GPP, NF_NDVI, NF_EVI, NF_PI, NF_PPI], label: { dx: 10, dy: 20 }, yFont: 19, xFont: 16.5, xPad: 6, yTickLen: 8, yPad: 3 },
  { name: PANEL_NAMES[3], box: { L: 110, T: 933, R: 804, B: 1179 }, xMin: 1999.49, xMax: 2014.57, yMin: -0.8, yMax: 1.0,
    years: ZH_YEARS, series: [ZH_GPP, ZH_NDVI, ZH_EVI, ZH_PI, ZH_PPI], label: { dx: 10, dy: 21 }, yFont: 16, xFont: 16, xPad: 6, yTickLen: 10, yPad: 4 },
];

const PAD_TOP = 14;
const PAD_RIGHT = 6;
const X_AXIS_H = 40;
const TITLE_SIZE = 17.5;

function fmtY(v: number): string {
  const s = Math.abs(v).toFixed(1);
  return v < -1e-9 ? '\u2212' + s : s;
}

function Panel({ p }: { p: PanelDef }) {
  const ref = useRef<HTMLCanvasElement | null>(null);
  const { L, T, R, B } = p.box;
  const w = R + PAD_RIGHT;
  const h = B - T + PAD_TOP + X_AXIS_H;

  useEffect(() => {
    const canvas = ref.current;
    if (!canvas) return;
    const framePlugin = {
      id: 'frame' + p.name,
      afterDatasetsDraw(chart: any) {
        const { ctx, chartArea: a } = chart;
        ctx.save();
        ctx.strokeStyle = '#5e5e5e';
        ctx.lineWidth = 1.3;
        ctx.setLineDash([]);
        ctx.strokeRect(a.left, a.top, a.right - a.left, a.bottom - a.top);
        ctx.restore();
      },
      afterDraw(chart: any) {
        const { ctx, chartArea: a } = chart;
        ctx.save();
        ctx.fillStyle = '#111111';
        ctx.font = `25.5px ${FONT}`;
        ctx.textBaseline = 'middle';
        ctx.textAlign = 'left';
        ctx.fillText(p.name, a.left + p.label.dx, a.top + p.label.dy);
        ctx.restore();
      },
    };
    const titleLH = TITLE_SIZE * 1.2;
    const chart = new Chart(canvas, {
      type: 'line',
      data: {
        datasets: SERIES_NAMES.map((name, i) => ({
          label: name,
          data: p.series[i].map(([x, y]) => ({ x, y })),
          borderColor: SERIES_STYLE[i].color,
          borderWidth: SERIES_STYLE[i].width,
          borderDash: SERIES_STYLE[i].dash,
          pointRadius: 0,
          fill: false,
          cubicInterpolationMode: 'monotone' as const,
        })),
      },
      options: {
        responsive: false,
        animation: false,
        devicePixelRatio: 1,
        layout: { padding: { top: PAD_TOP, right: PAD_RIGHT, left: 0, bottom: 0 } },
        plugins: { legend: { display: false }, tooltip: { enabled: false } },
        events: [],
        scales: {
          x: {
            type: 'linear',
            min: p.xMin,
            max: p.xMax,
            afterBuildTicks: (s: any) => { s.ticks = p.years.map((v) => ({ value: v })); },
            afterFit: (s: any) => { s.height = X_AXIS_H; },
            ticks: {
              callback: (v: any) => String(v),
              font: { family: FONT, size: p.xFont },
              color: '#1a1a1a',
              padding: p.xPad,
              maxRotation: 0,
              autoSkip: false,
            },
            grid: { drawOnChartArea: false, drawTicks: true, tickLength: 7, color: '#555555', lineWidth: 1.2 },
            border: { display: false },
          },
          y: {
            type: 'linear',
            min: p.yMin,
            max: p.yMax,
            afterBuildTicks: (s: any) => { s.ticks = Y_TICKS.map((v) => ({ value: v })); },
            afterFit: (s: any) => { s.width = L; },
            ticks: {
              callback: (v: any) => fmtY(Number(v)),
              font: { family: FONT, size: p.yFont },
              color: '#1a1a1a',
              padding: p.yPad,
            },
            grid: { drawOnChartArea: false, drawTicks: true, tickLength: p.yTickLen, color: '#555555', lineWidth: 1.2 },
            border: { display: false },
            title: {
              display: true,
              text: Y_TITLE,
              font: { family: FONT, size: TITLE_SIZE },
              color: '#1a1a1a',
              padding: { top: L - 82 - titleLH / 2, bottom: 0 },
            },
          },
        },
      } as any,
      plugins: [framePlugin],
    });
    return () => chart.destroy();
  }, []);

  return (
    <canvas
      ref={ref}
      width={w}
      height={h}
      style={{ position: 'absolute', left: 0, top: T - PAD_TOP, width: w, height: h }}
    />
  );
}

const LEGEND_ROWS = [21, 42, 62, 81, 100];

function Legend() {
  return (
    <div
      style={{
        position: 'absolute', left: 819, top: 18, width: 120, height: 121,
        border: '1.3px solid #555', boxSizing: 'border-box', background: '#fff',
      }}
    >
      <svg width={120} height={121} style={{ position: 'absolute', left: 0, top: 0 }}>
        {SERIES_NAMES.map((name, i) => (
          <g key={name}>
            <line
              x1={11} x2={50} y1={LEGEND_ROWS[i]} y2={LEGEND_ROWS[i]}
              stroke={SERIES_STYLE[i].color}
              strokeWidth={i === 0 ? 2.7 : 1.6}
              strokeDasharray={i === 0 ? undefined : '10 4'}
            />
            <text x={68} y={LEGEND_ROWS[i]} dominantBaseline="central" fontFamily={FONT} fontSize={15.5} fill="#1a1a1a">
              {name}
            </text>
          </g>
        ))}
      </svg>
    </div>
  );
}

export default function App() {
  return (
    <div style={{ position: 'absolute', left: 0, top: 0, width: 926, height: 1210, overflow: 'hidden', background: '#ffffff' }}>
      {PANELS.map((p) => (
        <Panel key={p.name} p={p} />
      ))}
      <Legend />
    </div>
  );
}
